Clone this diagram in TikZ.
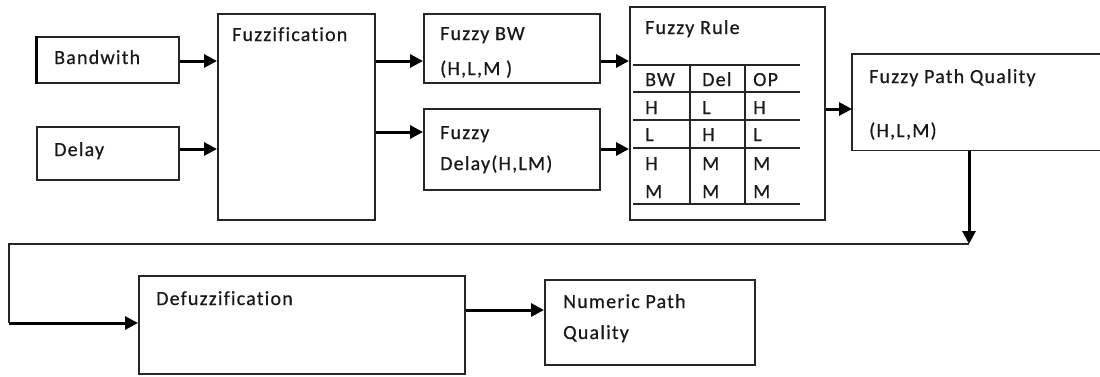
\documentclass[tikz,border=0pt]{standalone}
\usepackage{fontspec}
\setmainfont[Ligatures=NoCommon,LetterSpace=6,FakeBold=0.6]{Carlito}
\usetikzlibrary{arrows.meta}
\begin{document}
\begin{tikzpicture}[x=1pt,y=-1pt,
  box/.style={draw=black!85,line width=1.5pt,inner sep=0pt,anchor=north west},
  lbl/.style={anchor=base west,inner sep=0pt,text=black!90,font=\fontsize{20}{24}\selectfont},
  arr/.style={line width=3pt,-{Triangle[length=13pt,width=13pt]}},
  thin/.style={line width=1.5pt,draw=black!85}]
\useasboundingbox (0,0) rectangle (1100,376);
% boxes
\node[box,minimum width=142pt,minimum height=46pt] (bw) at (36,36) {};
\node[box,minimum width=142pt,minimum height=53pt] (dl) at (36,126) {};
\node[box,minimum width=157pt,minimum height=206pt] (fz) at (217,13) {};
\node[box,minimum width=176pt,minimum height=69pt] (fbw) at (423,13) {};
\node[box,minimum width=176pt,minimum height=81pt] (fdl) at (423,108) {};
\node[box,minimum width=195pt,minimum height=213pt] (fr) at (629,6) {};
\node[box,draw=none,minimum width=260pt,minimum height=95pt] (fpq) at (852,54) {};
\draw[thin] (fpq.north east) -- (fpq.north west) -- (fpq.south west) -- (fpq.south east);
\node[box,minimum width=326pt,minimum height=98pt] (dfz) at (138,275) {};
\node[box,minimum width=210pt,minimum height=85pt] (npq) at (544,279) {};
\draw[line width=3pt] (bw.north west) -- (bw.south west);
% labels
\node[lbl] (tbw) at (54,64) {Bandwith};
\node[lbl] (tdl) at (54,156) {Delay};
\node[lbl] (tfz) at (232,41) {Fuzzification};
\node[lbl] (tfbw1) at (440,40) {Fuzzy BW};
\node[lbl] (tfbw2) at (440,75) {(H,L,M )};
\node[lbl] (tfdl1) at (440,139) {Fuzzy};
\node[lbl] (tfdl2) at (440,170) {Delay(H,LM)};
\node[lbl] (tfr) at (645,34) {Fuzzy Rule};
\node[lbl] (tfpq1) at (869,83) {Fuzzy Path Quality};
\node[lbl] (tfpq2) at (869,137) {(H,L,M)};
\node[lbl] (tdfz) at (156,305) {Defuzzification};
\node[lbl] (tnpq1) at (563,308) {Numeric Path};
\node[lbl] (tnpq2) at (563,339) {Quality};
% table
\foreach \yy in {65,92,120,148,204} \draw[thin] (633,\yy) -- (800,\yy);
\draw[thin] (690,65) -- (690,204);
\draw[thin] (745,65) -- (745,204);
\node[lbl] (h1) at (645,86) {BW};
\node[lbl] (h2) at (702,86) {Del};
\node[lbl] (h3) at (753,86) {OP};
\node[lbl] (r11) at (645,114) {H};
\node[lbl] (r12) at (702,114) {L};
\node[lbl] (r13) at (753,114) {H};
\node[lbl] (r21) at (645,141) {L};
\node[lbl] (r22) at (702,141) {H};
\node[lbl] (r23) at (753,141) {L};
\node[lbl] (r31) at (645,170) {H};
\node[lbl] (r32) at (702,170) {M};
\node[lbl] (r33) at (753,170) {M};
\node[lbl] (r41) at (645,198) {M};
\node[lbl] (r42) at (702,198) {M};
\node[lbl] (r43) at (753,198) {M};
% connectors
\draw[arr] (bw.east |- 0,61) -- (fz.west |- 0,61);
\draw[arr] (dl.east |- 0,149) -- (fz.west |- 0,149);
\draw[arr] (fz.east |- 0,61) -- (fbw.west |- 0,61);
\draw[arr] (fz.east |- 0,132) -- (fdl.west |- 0,132);
\draw[arr] (fbw.east |- 0,61) -- (fr.west |- 0,61);
\draw[arr] (fdl.east |- 0,149) -- (fr.west |- 0,149);
\draw[arr] (fr.east |- 0,109) -- (fpq.west |- 0,109);
\coordinate (turn) at (969,244);
\coordinate (c1) at (9,244);
\coordinate (c2) at (9,323);
\draw[arr] (fpq.south west -| turn) -- (turn);
\draw[thin] (turn) -- (c1) -- (c2);
\draw[arr] (c2) -- (dfz.west |- c2);
\draw[arr] (dfz.east |- 0,310) -- (npq.west |- 0,310);
\end{tikzpicture}
\end{document}
